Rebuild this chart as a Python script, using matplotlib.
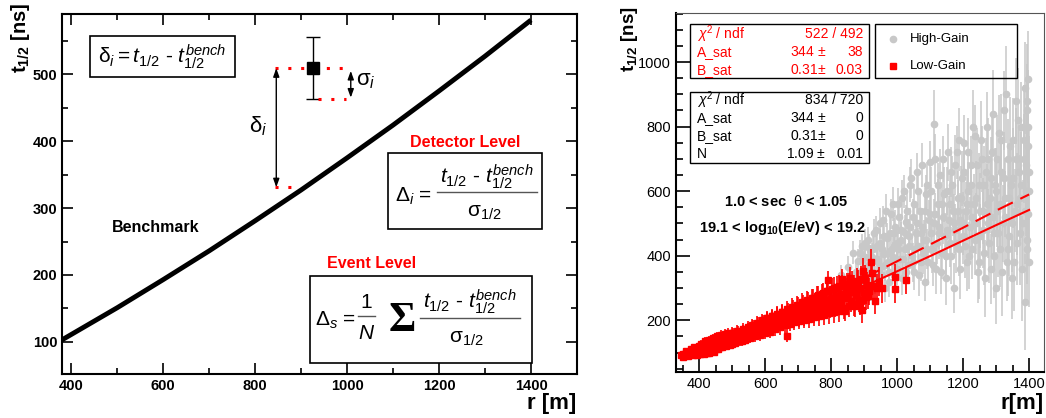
import matplotlib
matplotlib.use("Agg")
import matplotlib.pyplot as plt
from matplotlib.patches import Rectangle
from matplotlib.lines import Line2D
from matplotlib.ticker import MultipleLocator

plt.rcParams['font.family'] = ['Liberation Sans', 'DejaVu Sans']
plt.rcParams['mathtext.fontset'] = 'custom'
plt.rcParams['mathtext.rm'] = 'Liberation Sans'
plt.rcParams['mathtext.it'] = 'Liberation Sans:italic'
plt.rcParams['mathtext.bf'] = 'Liberation Sans:bold'

# ---- left panel: benchmark curve ----
bench_r = [380, 400, 500, 600, 700, 800, 900, 1000, 1100, 1200, 1300, 1400]
bench_t = [103, 111, 151, 193, 236, 281, 327, 375, 424, 475, 527, 581]

# single detector example
sample_r = 926
sample_t = 509
sample_sigma = 46
sample_bench = 331

# ---- right panel: low-gain (r, t, err) ----
lg = [
    (345, 93, 8), (350, 95, 8), (356, 97, 9), (362, 99, 8), (368, 96, 9), (372, 103, 9),
    (378, 101, 10), (383, 107, 9), (388, 98, 10), (392, 110, 10), (397, 104, 10), (401, 115, 11),
    (404, 97, 10), (408, 112, 11), (412, 120, 11), (416, 105, 11), (420, 126, 12), (423, 110, 11),
    (427, 118, 12), (431, 100, 10), (434, 131, 12), (438, 113, 12), (441, 124, 12), (445, 103, 11),
    (448, 136, 13), (452, 119, 12), (456, 129, 13), (460, 140, 13), (463, 117, 12), (467, 146, 14),
    (471, 127, 13), (475, 135, 13), (478, 150, 14), (482, 124, 13), (486, 141, 14), (490, 155, 14),
    (493, 132, 14), (497, 147, 15), (500, 128, 13), (503, 160, 15), (507, 139, 15), (511, 152, 15),
    (515, 143, 15), (518, 165, 16), (522, 148, 16), (526, 158, 16), (530, 137, 15), (534, 170, 16),
    (537, 153, 16), (541, 162, 17), (545, 145, 16), (549, 175, 17), (552, 158, 17), (556, 168, 17),
    (560, 150, 16), (563, 183, 18), (567, 163, 17), (571, 176, 18), (575, 156, 17), (578, 190, 19),
    (582, 170, 18), (586, 184, 18), (590, 162, 18), (593, 198, 19), (597, 176, 19), (601, 190, 19),
    (605, 207, 20), (608, 172, 19), (612, 195, 20), (616, 183, 20), (620, 212, 21), (623, 178, 20),
    (627, 201, 21), (631, 190, 21), (635, 218, 22), (638, 185, 21), (642, 207, 22), (646, 196, 22),
    (650, 225, 23), (653, 190, 22), (657, 212, 23), (661, 202, 23), (665, 152, 20), (668, 230, 24),
    (672, 197, 23), (676, 218, 24), (680, 208, 24), (684, 238, 25), (687, 200, 24), (691, 224, 25),
    (695, 213, 25), (699, 245, 26), (702, 205, 25), (706, 230, 26), (710, 218, 26), (714, 252, 27),
    (718, 210, 26), (721, 236, 27), (725, 225, 27), (729, 260, 28), (733, 215, 27), (736, 243, 28),
    (740, 230, 28), (744, 268, 29), (748, 220, 28), (751, 250, 29), (755, 236, 29), (759, 277, 30),
    (763, 226, 29), (766, 256, 30), (770, 242, 30), (774, 285, 31), (778, 231, 30), (781, 262, 31),
    (785, 248, 31), (789, 292, 32), (792, 324, 30), (796, 237, 31), (800, 268, 32), (804, 255, 32),
    (808, 300, 33), (812, 243, 32), (815, 275, 33), (819, 261, 33), (823, 307, 34), (827, 250, 33),
    (830, 282, 34), (834, 327, 32), (838, 268, 34), (842, 230, 33), (845, 296, 35), (849, 275, 35),
    (853, 312, 36), (857, 330, 34), (861, 260, 35), (864, 288, 36), (868, 305, 37), (872, 245, 36),
    (876, 280, 37), (880, 318, 38), (884, 264, 37), (888, 300, 38), (893, 231, 38), (896, 353, 40),
    (900, 286, 39), (905, 272, 40), (910, 310, 40), (915, 290, 41), (921, 382, 40), (923, 346, 42),
    (928, 305, 42), (933, 260, 40), (940, 300, 45), (946, 320, 44), (953, 300, 45), (994, 334, 42),
    (994, 298, 44), (1026, 324, 42),
    (352, 88, 8), (360, 104, 9), (366, 90, 8), (375, 110, 10), (381, 94, 9), (386, 116, 10),
    (394, 92, 9), (399, 122, 11), (406, 128, 11), (414, 96, 10), (418, 135, 12), (425, 98, 10),
    (429, 140, 12), (436, 105, 11), (443, 146, 13), (450, 110, 11), (454, 150, 14), (458, 112, 12),
    (465, 155, 14), (469, 118, 12), (477, 158, 15), (480, 122, 13), (488, 160, 15), (495, 125, 14),
    (501, 162, 16), (509, 130, 14), (516, 168, 17), (524, 135, 15), (532, 174, 17), (539, 140, 16),
    (547, 180, 18), (554, 145, 16), (561, 185, 19), (569, 150, 17), (576, 192, 20), (584, 155, 18),
    (591, 200, 20), (599, 160, 19), (607, 208, 21), (614, 165, 20), (622, 214, 22), (629, 172, 21),
    (637, 220, 23), (644, 178, 22), (652, 227, 24), (659, 185, 23), (667, 235, 25), (674, 190, 24),
    (682, 242, 26), (689, 195, 25), (697, 249, 27), (704, 198, 26), (712, 256, 28), (719, 202, 27),
    (727, 262, 29), (734, 205, 28), (742, 268, 30), (749, 210, 29), (757, 275, 31), (764, 214, 30),
    (772, 282, 32), (779, 218, 31), (787, 290, 33), (794, 222, 32), (802, 296, 34), (810, 225, 33),
    (817, 302, 35), (825, 230, 34), (832, 305, 36), (840, 238, 35), (847, 310, 37), (855, 245, 36),
    (862, 315, 38), (870, 250, 37), (878, 322, 39), (886, 255, 38), (891, 328, 40), (898, 262, 40),
    (903, 330, 40), (912, 275, 41),
]

# ---- right panel: high-gain (r, t, err) ----
hg = [
    (810, 285, 30), (830, 340, 32), (840, 310, 32), (850, 365, 34), (858, 330, 34), (865, 410, 36),
    (870, 300, 35), (876, 350, 36), (882, 385, 37), (888, 320, 37), (893, 430, 38), (898, 360, 38),
    (903, 395, 39), (908, 335, 39), (912, 450, 40), (917, 375, 40), (922, 300, 40), (926, 420, 41),
    (930, 345, 41), (935, 480, 42), (939, 390, 42), (943, 330, 42), (948, 440, 43), (952, 365, 43),
    (956, 510, 44), (960, 405, 44), (964, 300, 44), (968, 455, 45), (972, 380, 45), (976, 350, 45),
    (980, 530, 46), (984, 420, 46), (988, 395, 47), (992, 470, 47), (996, 340, 47), (1000, 440, 48),
    (1004, 560, 49), (1008, 390, 49), (1012, 480, 50), (1016, 330, 50), (1020, 600, 51), (1024, 420, 51),
    (1028, 505, 52), (1032, 370, 52), (1036, 460, 53), (1040, 620, 54), (1044, 400, 54), (1048, 520, 55),
    (1052, 350, 55), (1056, 470, 56), (1060, 660, 57), (1064, 430, 57), (1068, 540, 58), (1072, 380, 58),
    (1076, 490, 59), (1080, 450, 60), (1084, 320, 60), (1088, 590, 61), (1092, 420, 62), (1096, 510, 62),
    (1100, 690, 64), (1104, 470, 64), (1108, 370, 65), (1112, 808, 105), (1116, 530, 66), (1120, 440, 67),
    (1124, 620, 68), (1128, 490, 69), (1132, 350, 69), (1136, 560, 70), (1140, 700, 72), (1144, 460, 72),
    (1148, 400, 73), (1152, 600, 74), (1156, 510, 75), (1160, 440, 76), (1164, 660, 77), (1168, 540, 78),
    (1172, 300, 78), (1176, 480, 79), (1180, 720, 81), (1184, 580, 82), (1188, 420, 82), (1192, 510, 83),
    (1196, 640, 85), (1200, 460, 85), (1204, 750, 87), (1208, 540, 88), (1212, 380, 88), (1216, 600, 89),
    (1220, 490, 91), (1224, 680, 92), (1228, 420, 92), (1232, 560, 94), (1236, 770, 96), (1240, 500, 96),
    (1244, 350, 96), (1248, 620, 98), (1252, 460, 99), (1256, 700, 101), (1260, 540, 102), (1264, 410, 102),
    (1268, 660, 104), (1272, 800, 106), (1276, 500, 106), (1280, 580, 108), (1284, 360, 108), (1288, 720, 110),
    (1292, 470, 111), (1296, 620, 113), (1300, 300, 112), (1304, 540, 114), (1308, 780, 117), (1312, 420, 116),
    (1316, 660, 118), (1320, 500, 119), (1324, 850, 122), (1328, 580, 122), (1332, 380, 121), (1336, 700, 124),
    (1340, 460, 124), (1344, 620, 126), (1348, 330, 125), (1352, 760, 129), (1356, 540, 128), (1360, 880, 133),
    (1364, 440, 130), (1368, 660, 133), (1372, 580, 133), (1376, 800, 137), (1380, 500, 134), (1384, 700, 138),
    (1386, 920, 143), (1388, 257, 150), (1390, 600, 139), (1392, 850, 143), (1394, 450, 138), (1396, 740, 143),
    (1397, 947, 150), (1398, 530, 140), (1399, 660, 142), (1400, 380, 140),
    (880, 300, 40), (886, 410, 40), (891, 345, 40), (897, 390, 41), (902, 440, 42), (906, 310, 41),
    (911, 370, 42), (916, 425, 43), (920, 350, 43), (925, 395, 44), (929, 470, 45), (934, 325, 44),
    (938, 430, 45), (942, 380, 45), (947, 500, 47), (951, 345, 46), (955, 420, 47), (959, 460, 48),
    (963, 370, 48), (967, 540, 50), (971, 410, 49), (975, 320, 49), (979, 470, 50), (983, 380, 50),
    (987, 560, 52), (991, 430, 51), (995, 490, 52), (999, 360, 52), (1003, 420, 53), (1007, 520, 54),
    (1011, 450, 54), (1015, 580, 56), (1019, 390, 55), (1023, 470, 56), (1027, 350, 56), (1031, 540, 58),
    (1035, 430, 58), (1039, 490, 59), (1043, 640, 61), (1047, 380, 60), (1051, 560, 62), (1055, 420, 62),
    (1059, 500, 63), (1063, 600, 65), (1067, 340, 64), (1071, 470, 66), (1075, 680, 68), (1079, 410, 67),
    (1083, 540, 69), (1087, 450, 69), (1091, 620, 71), (1095, 380, 71), (1099, 530, 72), (1103, 600, 74),
    (1107, 420, 74), (1111, 500, 75), (1115, 700, 78), (1119, 360, 77), (1123, 560, 79), (1127, 470, 79),
    (1131, 650, 82), (1135, 410, 81), (1139, 520, 83), (1143, 590, 84), (1147, 330, 83), (1151, 480, 85),
    (1155, 720, 88), (1159, 560, 88), (1163, 400, 88), (1167, 620, 90), (1171, 500, 91), (1175, 680, 93),
    (1179, 440, 92), (1183, 540, 94), (1187, 760, 97), (1191, 360, 95), (1195, 580, 98), (1199, 500, 99),
    (1203, 660, 101), (1207, 430, 100), (1211, 560, 103), (1215, 720, 106), (1219, 400, 104), (1223, 620, 107),
    (1227, 520, 108), (1231, 800, 112), (1235, 450, 110), (1239, 580, 113), (1243, 680, 115), (1247, 380, 113),
    (1251, 540, 116), (1255, 760, 120), (1259, 480, 118), (1263, 620, 121), (1267, 330, 119), (1271, 560, 123),
    (1275, 700, 126), (1279, 440, 125), (1283, 640, 128), (1287, 520, 128), (1291, 840, 134), (1295, 400, 130),
    (1299, 600, 133), (1303, 700, 136), (1307, 470, 135), (1311, 560, 138), (1315, 760, 142), (1319, 350, 138),
    (1323, 640, 143), (1327, 520, 143), (1331, 900, 150), (1335, 420, 145), (1339, 580, 149), (1343, 740, 152),
    (1347, 500, 151), (1351, 640, 155), (1355, 380, 152), (1359, 700, 158), (1363, 560, 158), (1367, 820, 163),
    (1371, 470, 160), (1375, 620, 164), (1379, 360, 162), (1383, 760, 168), (1387, 540, 167), (1391, 680, 170),
    (1393, 880, 175), (1395, 420, 170), (1398, 800, 175), (1400, 600, 172),
]

fit_r = [340, 400, 500, 600, 700, 800, 900, 1000, 1100, 1200, 1300, 1400]
fit_t = [86, 104, 136, 173, 214, 258, 305, 352, 399, 447, 495, 542]
fitN_r = [900, 1000, 1100, 1200, 1300, 1400]
fitN_t = [332, 383, 435, 487, 540, 590]

red_stats = [("$\\chi^2$ / ndf", "522 / 492", ""), ("A_sat", "344 $\\pm$", "38"),
             ("B_sat", "0.31$\\pm$", "0.03")]
black_stats = [("$\\chi^2$ / ndf", "834 / 720", ""), ("A_sat", "344 $\\pm$", "0"),
               ("B_sat", "0.31$\\pm$", "0"), ("N", "1.09 $\\pm$", "0.01")]

RED = '#ff0000'
GREY = '#c8c8c8'
NUMER = r'$t_{\mathit{1/2}}$ - $t_{\mathit{1/2}}^{\mathit{bench}}$'
DENOM = r'$\mathrm{\sigma}_{\mathit{1/2}}$'

fig = plt.figure(figsize=(10.46, 4.18), dpi=100)
W, H = 1046, 418
ax1 = fig.add_axes([62 / W, 1 - 374 / H, 515 / W, 360 / H])
ax2 = fig.add_axes([676 / W, 1 - 372 / H, 368 / W, 359 / H])

# ---------------- left ----------------
ax1.plot(bench_r, bench_t, color='black', lw=3.5, solid_capstyle='butt')
ax1.errorbar([sample_r], [sample_t], yerr=[sample_sigma], fmt='s', color='black',
             ms=8, capsize=5, lw=1, capthick=1)
dot = dict(color=RED, lw=2.2, linestyle=(0, (1, 3.2)))
ax1.plot([843, 998], [sample_t, sample_t], **dot)
ax1.plot([937, 998], [sample_t - sample_sigma, sample_t - sample_sigma], **dot)
ax1.plot([843, 898], [sample_bench, sample_bench], **dot)
arrow = dict(arrowstyle='<|-|>,head_length=0.5,head_width=0.18', lw=1, color='black',
             shrinkA=0, shrinkB=0)
ax1.annotate('', xy=(846, sample_t), xytext=(846, sample_bench), arrowprops=arrow)
ax1.annotate('', xy=(1008, sample_t - 4), xytext=(1008, sample_t - sample_sigma + 2),
             arrowprops=arrow)
ax1.text(806, 422, r'$\mathrm{\delta}_i$', fontsize=16, ha='center', va='center')
ax1.text(1020, 490, r'$\mathrm{\sigma}_i$', fontsize=16, ha='left', va='center')

ax1.set_xlim(380, 1500)
ax1.set_ylim(52, 590)
ax1.set_xticks([400, 600, 800, 1000, 1200, 1400])
ax1.xaxis.set_minor_locator(MultipleLocator(100))
ax1.yaxis.set_major_locator(MultipleLocator(100))
ax1.yaxis.set_minor_locator(MultipleLocator(50))
ax1.tick_params(which='both', direction='in', top=True, right=True, width=1.2)
ax1.tick_params(which='major', length=8, labelsize=10.5)
ax1.tick_params(which='minor', length=4)
for lab in ax1.get_xticklabels() + ax1.get_yticklabels():
    lab.set_fontweight('bold')
for s in ax1.spines.values():
    s.set_linewidth(1.5)

T = ax1.transAxes
for (x0, y0), bw, bh in [((0.054, 0.825), 0.282, 0.114), ((0.633, 0.403), 0.299, 0.211),
                         ((0.482, 0.031), 0.431, 0.241)]:
    ax1.add_patch(Rectangle((x0, y0), bw, bh, transform=T, fill=False, lw=1.2, ec='black', zorder=5))

# box 1
ax1.text(0.195, 0.882, r'$\mathrm{\delta}_i = t_{\mathit{1/2}}$ - $t_{\mathit{1/2}}^{\mathit{bench}}$',
         transform=T, fontsize=15, ha='center', va='center')
# box 2
ax1.text(0.647, 0.494, r'$\Delta_i$ =', transform=T, fontsize=15, ha='left', va='center')
ax1.text(0.825, 0.548, NUMER, transform=T, fontsize=15, ha='center', va='center')
ax1.add_line(Line2D([0.728, 0.922], [0.506, 0.506], transform=T, color='#555555', lw=1))
ax1.text(0.821, 0.448, DENOM, transform=T, fontsize=15, ha='center', va='center')
# box 3
ax1.text(0.491, 0.150, r'$\Delta_s$ =', transform=T, fontsize=15, ha='left', va='center')
ax1.text(0.591, 0.198, r'$\mathit{1}$', transform=T, fontsize=15, ha='center', va='center')
ax1.add_line(Line2D([0.575, 0.608], [0.160, 0.160], transform=T, color='#555555', lw=1))
ax1.text(0.591, 0.112, r'$N$', transform=T, fontsize=15, ha='center', va='center')
ax1.text(0.660, 0.148, '\u03a3', transform=T, fontsize=30, fontweight='bold',
         ha='center', va='center', family='Liberation Serif')
ax1.text(0.792, 0.200, NUMER, transform=T, fontsize=15, ha='center', va='center')
ax1.add_line(Line2D([0.695, 0.889], [0.155, 0.155], transform=T, color='#555555', lw=1))
ax1.text(0.786, 0.098, DENOM, transform=T, fontsize=15, ha='center', va='center')

ax1.text(0.783, 0.642, 'Detector Level', transform=T, color=RED,
         fontsize=11.5, fontweight='bold', ha='center', va='center')
ax1.text(0.602, 0.308, 'Event Level', transform=T, color=RED,
         fontsize=11.5, fontweight='bold', ha='center', va='center')
ax1.text(0.181, 0.406, 'Benchmark', transform=T,
         fontsize=11.5, fontweight='bold', ha='center', va='center')

fig.text(21 / W, 1 - 3 / H, r'$\mathbf{t}_{\mathbf{1/2}}$ [ns]', rotation=90,
         fontsize=14.5, fontweight='bold', ha='center', va='top')
fig.text(576 / W, 1 - 404 / H, 'r [m]', fontsize=16, fontweight='bold', ha='right', va='center')

# ---------------- right ----------------
hr, ht, he = zip(*hg)
ax2.errorbar(hr, ht, yerr=he, fmt='o', color=GREY, ms=4.5, lw=1.1, capsize=0, zorder=2)
lr, lt, le = zip(*lg)
ax2.errorbar(lr, lt, yerr=le, fmt='s', color=RED, ms=5, lw=1.2, capsize=0, zorder=3)
ax2.plot(fit_r, fit_t, color=RED, lw=1.5, zorder=4)
ax2.plot(fitN_r, fitN_t, color=RED, lw=1.5, dashes=(8, 4), zorder=4)

ax2.set_xlim(330, 1445)
ax2.set_ylim(40, 1152)
ax2.xaxis.set_major_locator(MultipleLocator(200))
ax2.xaxis.set_minor_locator(MultipleLocator(50))
ax2.yaxis.set_major_locator(MultipleLocator(200))
ax2.yaxis.set_minor_locator(MultipleLocator(50))
ax2.tick_params(which='both', direction='in', width=1.2)
ax2.tick_params(which='major', length=10, labelsize=10.5)
ax2.tick_params(which='minor', length=5)
ax2.spines['left'].set_linewidth(1.5)
ax2.spines['bottom'].set_linewidth(1.5)
ax2.spines['top'].set_color('#555555')
ax2.spines['right'].set_color('#555555')

T2 = ax2.transAxes
ax2.add_patch(Rectangle((0.038, 0.819), 0.486, 0.150, transform=T2,
                        fill=False, ec='black', lw=1, zorder=6))
for i, (name, val, err) in enumerate(red_stats):
    y = 0.942 - i * 0.0505
    ax2.text(0.057, y, name, transform=T2, color=RED, fontsize=10, va='center', zorder=7)
    ax2.text(0.508 if not err else 0.408, y, val, transform=T2, color=RED,
             fontsize=10, va='center', ha='right', zorder=7)
    if err:
        ax2.text(0.508, y, err, transform=T2, color=RED, fontsize=10,
                 va='center', ha='right', zorder=7)

ax2.add_patch(Rectangle((0.038, 0.582), 0.486, 0.198, transform=T2,
                        fill=False, ec='black', lw=1, zorder=6))
for i, (name, val, err) in enumerate(black_stats):
    y = 0.758 - i * 0.0505
    ax2.text(0.057, y, name, transform=T2, fontsize=10, va='center', zorder=7)
    ax2.text(0.508 if not err else 0.408, y, val, transform=T2,
             fontsize=10, va='center', ha='right', zorder=7)
    if err:
        ax2.text(0.508, y, err, transform=T2, fontsize=10,
                 va='center', ha='right', zorder=7)

# legend
ax2.add_patch(Rectangle((0.541, 0.819), 0.386, 0.150, transform=T2,
                        fill=False, ec='black', lw=1, zorder=6))
ax2.plot([0.590], [0.928], 'o', color=GREY, ms=4.5, transform=T2, zorder=7)
ax2.plot([0.590], [0.852], 's', color=RED, ms=4.5, transform=T2, zorder=7)
ax2.text(0.636, 0.928, 'High-Gain', transform=T2, fontsize=9.5, va='center', zorder=7)
ax2.text(0.636, 0.852, 'Low-Gain', transform=T2, fontsize=9.5, va='center', zorder=7)

ax2.text(0.299, 0.476, r'1.0 < sec  $\mathrm{\theta}$ < 1.05', transform=T2,
         fontsize=10.5, fontweight='bold', ha='center', va='center')
ax2.text(0.288, 0.401, r'19.1 < log$_{\mathbf{10}}$(E/eV) < 19.2', transform=T2,
         fontsize=10.5, fontweight='bold', ha='center', va='center')

fig.text(630 / W, 1 - 6 / H, r'$\mathbf{t}_{\mathbf{1/2}}$ [ns]', rotation=90,
         fontsize=13.5, fontweight='bold', ha='center', va='top')
fig.text(1044 / W, 1 - 404 / H, 'r[m]', fontsize=16, fontweight='bold', ha='right', va='center')

fig.savefig('out.png', dpi=100)
